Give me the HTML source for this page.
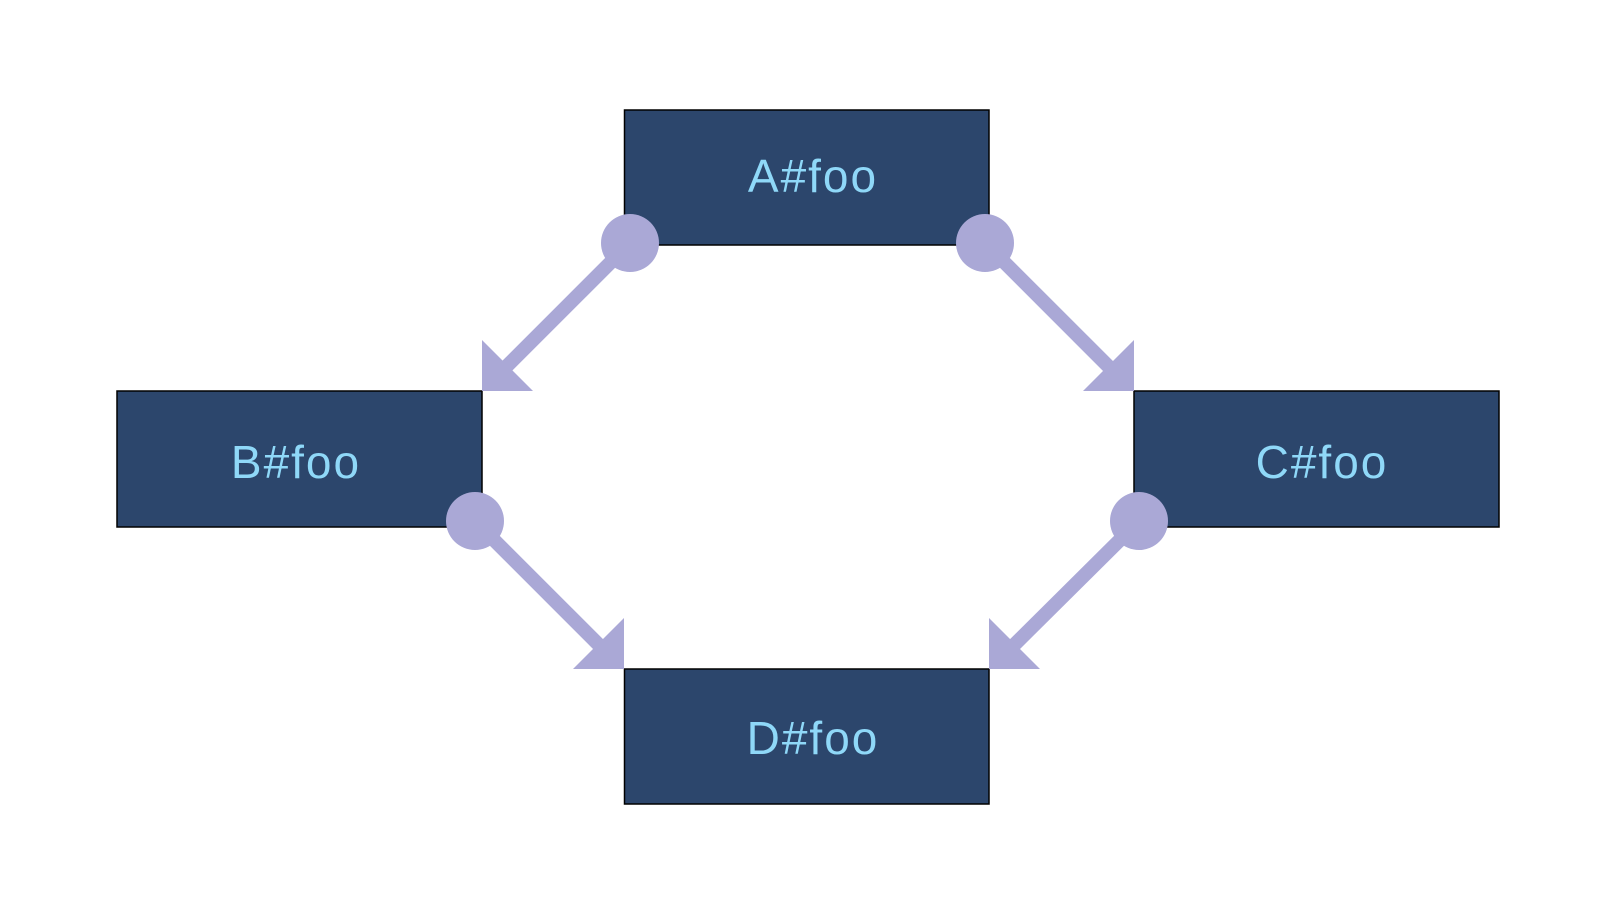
<!DOCTYPE html>
<html><head><style>html,body{margin:0;padding:0;background:#fff}svg{display:block}</style></head>
<body>
<svg width="1600" height="900" viewBox="0 0 1600 900" xmlns="http://www.w3.org/2000/svg">
<g fill="#2c466c" stroke="#000" stroke-width="1.5">
<rect x="624.5" y="110" width="364.5" height="135"/>
<rect x="117" y="391" width="365" height="136"/>
<rect x="1134" y="391" width="365" height="136"/>
<rect x="624.5" y="669" width="364.5" height="135"/>
</g>
<g fill="#8fd8f8" font-family="Liberation Sans, sans-serif" font-size="46" text-anchor="middle" letter-spacing="2">
<text x="813" y="192">A#foo</text>
<text x="296" y="478">B#foo</text>
<text x="1322" y="478">C#foo</text>
<text x="813" y="754">D#foo</text>
</g>
<g stroke="#aaa8d6" stroke-width="14">
<line x1="630" y1="243" x2="498" y2="375"/>
<line x1="985" y1="243" x2="1117" y2="375"/>
<line x1="475" y1="521" x2="607" y2="653"/>
<line x1="1139" y1="521" x2="1006" y2="653"/>
</g>
<g fill="#aaa8d6">
<circle cx="630" cy="243" r="29"/>
<circle cx="985" cy="243" r="29"/>
<circle cx="475" cy="521" r="29"/>
<circle cx="1139" cy="521" r="29"/>
<polygon points="482,340 482,391 533,391"/>
<polygon points="1134,340 1134,391 1083,391"/>
<polygon points="624,618 624,669 573,669"/>
<polygon points="989,618 989,669 1040,669"/>
</g>
</svg>
</body></html>
